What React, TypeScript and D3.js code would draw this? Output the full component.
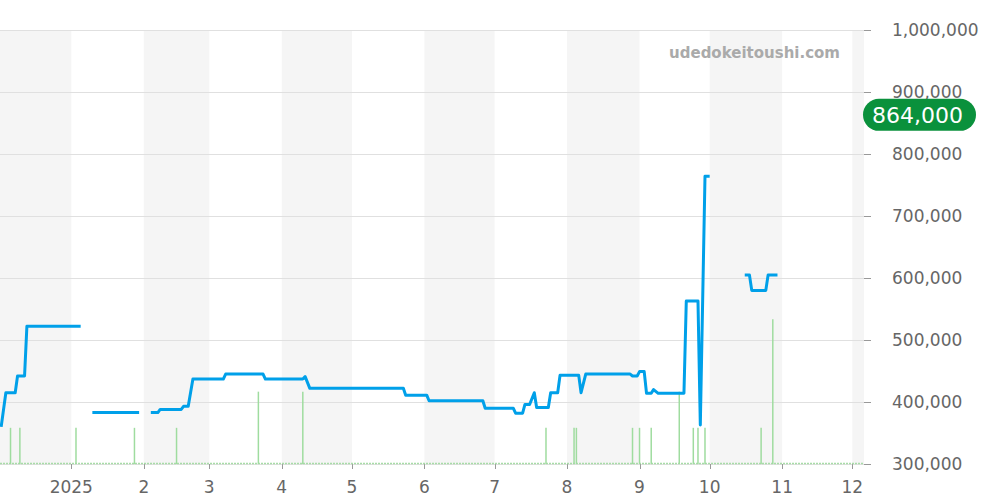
import React from "react";
import * as d3 from "d3";

const priceDates: string[] = [
  "2024-12-02", "2024-12-04", "2024-12-08", "2024-12-09", "2024-12-12", "2024-12-13", "2025-01-05", "2025-01-06",
  "2025-01-10", "2025-01-30", "2025-01-31",
  "2025-02-04", "2025-02-07", "2025-02-08", "2025-02-17", "2025-02-18", "2025-02-20", "2025-02-22",
  "2025-03-07", "2025-03-08", "2025-03-24", "2025-03-25", "2025-04-10", "2025-04-11", "2025-04-13",
  "2025-05-23", "2025-05-24", "2025-06-02", "2025-06-03", "2025-06-26", "2025-06-27",
  "2025-07-09", "2025-07-10", "2025-07-13", "2025-07-14", "2025-07-16", "2025-07-18", "2025-07-19",
  "2025-07-24", "2025-07-25", "2025-07-28", "2025-07-29", "2025-08-06", "2025-08-07", "2025-08-09",
  "2025-08-28", "2025-08-29", "2025-08-31", "2025-09-01", "2025-09-03", "2025-09-04", "2025-09-06",
  "2025-09-07", "2025-09-09", "2025-09-20", "2025-09-21", "2025-09-26", "2025-09-27", "2025-09-29",
  "2025-10-01", "2025-10-02",
  "2025-10-16", "2025-10-18", "2025-10-19", "2025-10-25", "2025-10-26", "2025-10-30",
];
const priceValues: (number | null)[] = [
  360000, 415000, 415000, 442000, 442000, 522000, 522000, null,
  383000, 383000, null,
  383000, 383000, 388000, 388000, 393000, 393000, 437000,
  437000, 445000, 445000, 437000, 437000, 441000, 422000,
  422000, 411000, 411000, 402000, 402000, 390000,
  390000, 382000, 382000, 396000, 396000, 415000, 391000,
  391000, 415000, 415000, 443000, 443000, 415000, 445000,
  445000, 442000, 442000, 449000, 449000, 414000, 414000,
  420000, 414000, 414000, 563000, 563000, 363000, 764000,
  764000, null,
  605000, 605000, 580000, 580000, 605000, 605000,
];

const volumeDates: string[] = [
  "2024-12-06", "2024-12-10", "2025-01-03", "2025-01-28", "2025-02-15", "2025-03-22", "2025-04-10",
  "2025-07-23", "2025-08-04", "2025-08-05", "2025-08-29", "2025-09-01", "2025-09-06", "2025-09-18",
  "2025-09-24", "2025-09-26", "2025-09-29", "2025-10-23", "2025-10-28",
];
const volumeCounts: number[] = [1, 1, 1, 1, 1, 2, 2, 1, 1, 1, 1, 1, 1, 2, 1, 1, 1, 1, 4];

const yTicks: number[] = [300000, 400000, 500000, 600000, 700000, 800000, 900000, 1000000];
const currentPrice = 864000;
const watermark = "udedokeitoushi.com";

const parse = d3.timeParse("%Y-%m-%d");

export default function App() {
  const W = 1000, H = 500;
  const plotL = 0, plotR = 864, plotT = 30, plotB = 464;
  const font = "'DejaVu Sans', sans-serif";

  const x = d3.scaleTime()
    .domain([new Date(2024, 11, 1, 12), new Date(2025, 11, 6)])
    .range([plotL, plotR]);
  const y = d3.scaleLinear().domain([300000, 1000000]).range([plotB, plotT]);
  const yv = d3.scaleLinear().domain([0, 12]).range([plotB, plotT]);

  const pts = priceDates.map((d, i) => ({ date: parse(d) as Date, v: priceValues[i] }));
  const line = d3.line<{ date: Date; v: number | null }>()
    .defined((d) => d.v !== null)
    .x((d) => x(d.date))
    .y((d) => y(d.v as number));

  const months = d3.timeMonth.range(new Date(2024, 11, 1), new Date(2025, 11, 7));
  const monthTicks = d3.timeMonth.range(new Date(2025, 0, 1), new Date(2025, 11, 2));
  const monthLabel = (d: Date) => (d.getMonth() === 0 ? String(d.getFullYear()) : String(d.getMonth() + 1));

  return (
    <svg width={W} height={H} style={{ position: "absolute", left: 0, top: 0 }} fontFamily={font}>
      <rect x={0} y={0} width={W} height={H} fill="#fff" />
      {months.map((m, i) => {
        if (i % 2 !== 0) return null;
        const next = d3.timeMonth.offset(m, 1);
        const x0 = Math.max(plotL, x(m));
        const x1 = Math.min(plotR, x(next));
        return <rect key={i} x={x0} y={plotT} width={x1 - x0} height={plotB - plotT} fill="#f5f5f5" />;
      })}
      {yTicks.map((t) => (
        <g key={t}>
          <line x1={plotL} x2={plotR} y1={Math.round(y(t)) + 0.5} y2={Math.round(y(t)) + 0.5} stroke="#e0e0e0" />
          <line x1={plotR} x2={plotR + 7} y1={Math.round(y(t)) + 0.5} y2={Math.round(y(t)) + 0.5} stroke="#999" />
          <text x={892} y={y(t) + 6.3} fontSize={17} fill="#666">{d3.format(",")(t)}</text>
        </g>
      ))}
      <text x={840} y={58} fontSize={15} fontWeight="bold" fill="#aaa" textAnchor="end">{watermark}</text>
      {monthTicks.map((m, i) => (
        <g key={i}>
          <line x1={Math.round(x(m)) + 0.5} x2={Math.round(x(m)) + 0.5} y1={plotB} y2={plotB + 5} stroke="#999" />
          <text x={x(m)} y={493} fontSize={17} fill="#666" textAnchor="middle">{monthLabel(m)}</text>
        </g>
      ))}
      <line x1={plotL} x2={plotR} y1={plotB - 0.5} y2={plotB - 0.5} stroke="#a8dca8" strokeWidth={1.5} strokeDasharray="2,1" />
      {volumeDates.map((d, i) => {
        const xd = x(parse(d) as Date);
        return (
          <line key={i} x1={xd} x2={xd} y1={plotB} y2={yv(volumeCounts[i])} stroke="#9fdc9f" strokeWidth={1.5} />
        );
      })}
      <path d={line(pts) || ""} fill="none" stroke="#00a0e9" strokeWidth={3} strokeLinejoin="round" />
      <rect x={863} y={y(currentPrice) - 15.5} width={113} height={32} rx={16} fill="#0a913c" />
      <text x={872} y={y(currentPrice) + 8.5} fontSize={22} fill="#fff">{d3.format(",")(currentPrice)}</text>
    </svg>
  );
}
